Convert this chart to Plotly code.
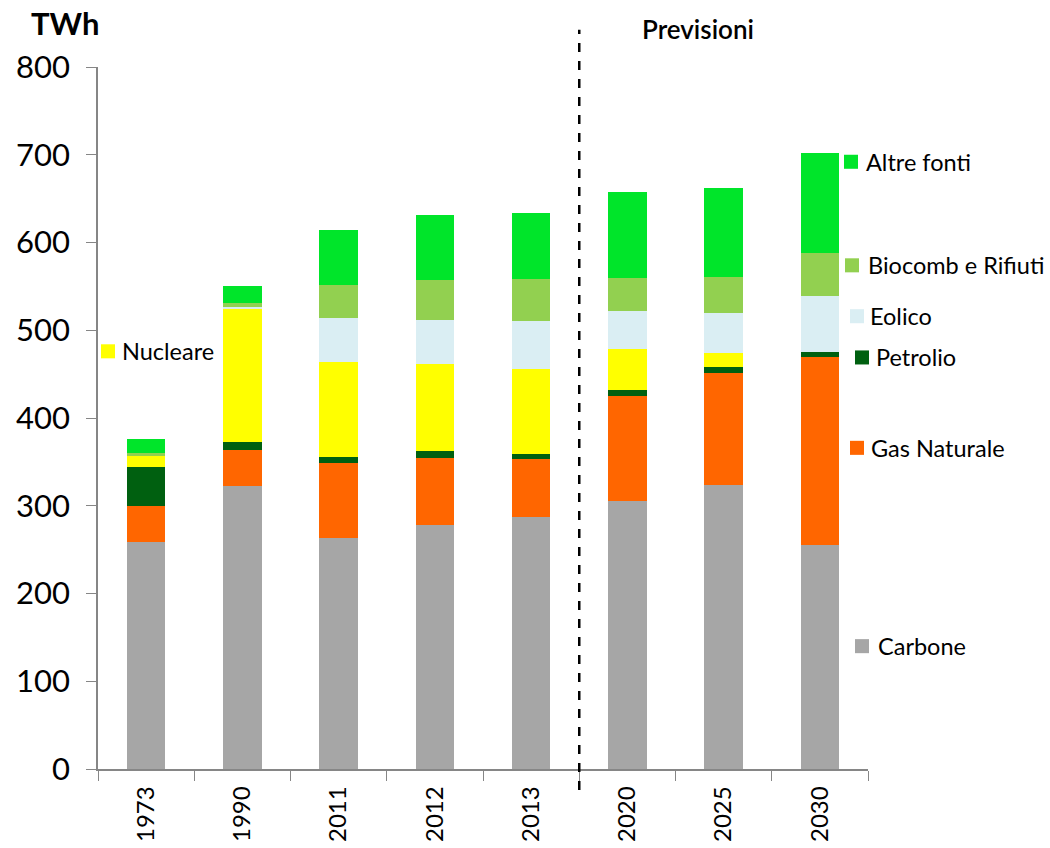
import plotly.graph_objects as go

years = ["1973", "1990", "2011", "2012", "2013", "2020", "2025", "2030"]
carbone = [259, 322, 263, 278, 287, 305, 324, 255]
gas = [41, 41, 86, 76, 66, 120, 127, 214]
petrolio = [44, 10, 7, 8, 6, 7, 7, 6]
nucleare = [13, 152, 108, 99, 97, 47, 16, 0]
eolico = [0, 1, 50, 51, 54, 43, 46, 64]
biocomb = [3, 5, 38, 45, 48, 38, 41, 49]
altre = [16, 20, 62, 74, 76, 97, 101, 114]

series = [
    ("Carbone", carbone, "#A6A6A6"),
    ("Gas Naturale", gas, "#FF6600"),
    ("Petrolio", petrolio, "#006010"),
    ("Nucleare", nucleare, "#FFFF00"),
    ("Eolico", eolico, "#DAEEF3"),
    ("Biocomb e Rifiuti", biocomb, "#92D050"),
    ("Altre fonti", altre, "#00E52A"),
]

# label positions: (pixel x of square center, y data value, pixel x of text left)
label_pos = {
    "Altre fonti": (851, 692, 864),
    "Biocomb e Rifiuti": (852, 574, 866),
    "Eolico": (857, 516, 868),
    "Petrolio": (862, 469, 874),
    "Gas Naturale": (857, 366, 869),
    "Carbone": (862, 140, 876),
    "Nucleare": (108, 476, 120),
}

FONT = "Lato, 'Open Sans', sans-serif"
L, R = 98, 868
W = R - L

def px(x):
    return (x - L) / W

fig = go.Figure()
for name, vals, col in series:
    fig.add_trace(go.Bar(x=years, y=vals, name=name, marker=dict(color=col, line=dict(width=0))))

shapes = []
annotations = []
for name, vals, col in series:
    sx, sy, tx = label_pos[name]
    shapes.append(dict(type="rect", xref="paper", yref="y",
                       x0=px(sx - 7), x1=px(sx + 7), y0=sy - 8, y1=sy + 8,
                       fillcolor=col, line=dict(width=0)))
    annotations.append(dict(text=name, xref="paper", yref="y", x=px(tx), y=sy,
                            xanchor="left", yanchor="middle", showarrow=False,
                            font=dict(size=23.5, color="black", family=FONT)))

shapes.append(dict(type="line", xref="x", yref="paper", x0=4.5, x1=4.5, y0=-0.03, y1=1.053,
                   line=dict(color="black", width=2.5, dash="dash")))
annotations.append(dict(text="Previsioni", xref="paper", yref="paper", x=px(698), y=1.054,
                        xanchor="center", yanchor="middle", showarrow=False,
                        font=dict(size=26, color="black", family="Lato Semibold, Lato Medium, Lato, sans-serif")))
annotations.append(dict(text="<b>TWh</b>", xref="paper", yref="paper", x=px(65), y=1.062,
                        xanchor="center", yanchor="middle", showarrow=False,
                        font=dict(size=31, color="black", family=FONT)))

fig.update_layout(
    barmode="stack",
    bargap=0.6,
    width=1050, height=848,
    margin=dict(l=L, r=1050 - R, t=67, b=79),
    plot_bgcolor="white", paper_bgcolor="white",
    showlegend=False,
    font=dict(family=FONT, color="black"),
    shapes=shapes,
    annotations=annotations,
    xaxis=dict(showline=True, linecolor="#868686", linewidth=1.5, automargin=False,
               ticks="outside", tickson="boundaries", ticklen=10, tickcolor="#868686",
               tickangle=-90, tickfont=dict(size=24), ticklabelstandoff=6, showgrid=False),
    yaxis=dict(range=[0, 800], dtick=100, showline=True, linecolor="#868686", linewidth=1.5,
               automargin=False,
               ticks="outside", ticklen=10, tickcolor="#868686", showgrid=False,
               tickfont=dict(size=31), ticklabelstandoff=10, zeroline=False),
)
fig.write_html("out.html", config={"displayModeBar": False},
               post_script="document.body.style.margin='0';document.body.style.overflow='hidden';")
